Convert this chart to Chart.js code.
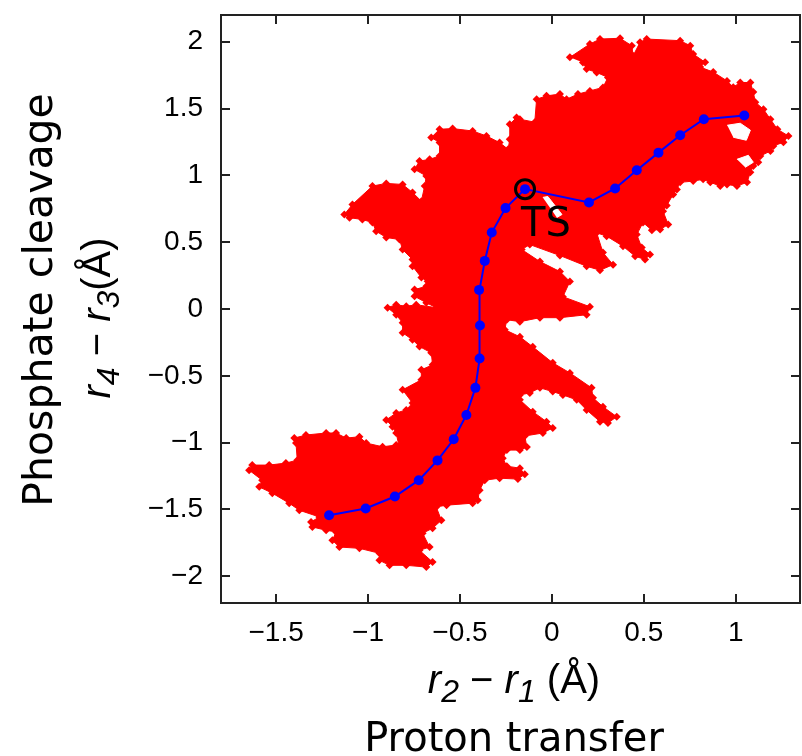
<!DOCTYPE html>
<html><head><meta charset="utf-8">
<script src="https://cdn.jsdelivr.net/npm/chart.js@4.4.1/dist/chart.umd.min.js"></script>
<style>html,body{margin:0;padding:0;background:#fff}canvas{display:block}</style>
</head><body>
<canvas id="c" width="802" height="756"></canvas>
<script>
const xTickValues = [-1.5, -1, -0.5, 0, 0.5, 1];
const xTickLabels = ['\u22121.5', '\u22121', '\u22120.5', '0', '0.5', '1'];
const yTickValues = [-2, -1.5, -1, -0.5, 0, 0.5, 1, 1.5, 2];
const yTickLabels = ['\u22122', '\u22121.5', '\u22121', '\u22120.5', '0', '0.5', '1', '1.5', '2'];

// minimum-energy path (blue)
const pathX = [-1.212, -1.013, -0.854, -0.724, -0.622, -0.534, -0.465, -0.416, -0.393, -0.391, -0.396, -0.365, -0.327, -0.252, -0.146, 0.202, 0.344, 0.462, 0.580, 0.698, 0.827, 1.047];
const pathY = [-1.543, -1.493, -1.403, -1.281, -1.133, -0.975, -0.793, -0.590, -0.371, -0.123, 0.143, 0.360, 0.572, 0.755, 0.897, 0.797, 0.902, 1.038, 1.170, 1.300, 1.420, 1.448];

// transition state
const tsPoint = [-0.146, 0.897];
const tsLabel = 'TS';

// outline of the sampled region (red)
const cloudOutline = [
[0.098,1.883],[0.207,1.983],[0.262,2.020],[0.371,2.026],[0.435,1.970],[0.442,1.895],[0.480,1.996],[0.516,2.020],
[0.698,2.008],[0.753,1.970],[0.769,1.908],[0.834,1.846],[0.807,1.810],[0.878,1.773],[0.953,1.707],[0.987,1.660],
[1.025,1.695],[1.080,1.695],[1.096,1.623],[1.107,1.548],[1.151,1.495],[1.189,1.420],[1.227,1.345],[1.287,1.295],
[1.260,1.248],[1.205,1.220],[1.189,1.182],[1.134,1.145],[1.123,1.098],[1.096,1.070],[1.080,1.023],[1.062,0.948],
[1.007,0.920],[0.953,0.932],[0.916,0.920],[0.862,0.948],[0.823,0.970],[0.769,0.957],[0.698,0.948],[0.680,0.895],
[0.660,0.857],[0.625,0.775],[0.605,0.732],[0.633,0.632],[0.589,0.595],[0.544,0.590],[0.496,0.647],[0.462,0.557],
[0.489,0.460],[0.534,0.407],[0.507,0.370],[0.453,0.395],[0.387,0.470],[0.298,0.545],[0.244,0.570],[0.278,0.422],
[0.333,0.332],[0.262,0.290],[0.189,0.320],[0.044,0.400],[-0.120,0.482],[-0.164,0.445],[-0.065,0.355],[0.044,0.280],
[0.098,0.205],[0.060,0.092],[0.207,0.017],[0.189,-0.043],[0.044,-0.065],[-0.065,-0.065],[-0.174,-0.095],[-0.245,-0.080],
[-0.256,-0.155],[-0.174,-0.208],[-0.104,-0.283],[0.005,-0.403],[0.098,-0.478],[0.216,-0.590],[0.224,-0.665],[0.278,-0.731],
[0.353,-0.806],[0.305,-0.853],[0.262,-0.843],[0.189,-0.755],[0.135,-0.680],[0.060,-0.643],[0.005,-0.618],[-0.065,-0.590],
[-0.120,-0.628],[-0.174,-0.643],[-0.174,-0.680],[-0.104,-0.768],[-0.029,-0.843],[0.005,-0.890],[-0.049,-0.928],[-0.147,-0.950],
[-0.136,-1.033],[-0.174,-1.056],[-0.245,-1.056],[-0.267,-1.116],[-0.245,-1.176],[-0.174,-1.191],[-0.147,-1.236],[-0.185,-1.273],
[-0.284,-1.266],[-0.365,-1.281],[-0.393,-1.356],[-0.403,-1.431],[-0.431,-1.453],[-0.573,-1.468],[-0.629,-1.481],[-0.601,-1.581],
[-0.649,-1.641],[-0.703,-1.678],[-0.665,-1.781],[-0.720,-1.806],[-0.649,-1.893],[-0.683,-1.931],[-0.792,-1.918],[-0.883,-1.918],
[-0.938,-1.881],[-0.938,-1.828],[-1.047,-1.791],[-1.156,-1.781],[-1.194,-1.731],[-1.174,-1.668],[-1.228,-1.656],[-1.303,-1.631],
[-1.310,-1.593],[-1.265,-1.556],[-1.374,-1.506],[-1.429,-1.453],[-1.521,-1.378],[-1.592,-1.331],[-1.576,-1.281],[-1.647,-1.206],
[-1.630,-1.168],[-1.538,-1.168],[-1.447,-1.153],[-1.385,-1.131],[-1.392,-1.003],[-1.401,-0.966],[-1.338,-0.943],[-1.228,-0.928],
[-1.174,-0.928],[-1.119,-0.966],[-1.047,-0.956],[-1.010,-1.003],[-0.921,-1.031],[-0.847,-1.018],[-0.829,-1.041],[-0.847,-0.928],
[-0.867,-0.881],[-0.901,-0.830],[-0.847,-0.778],[-0.792,-0.755],[-0.758,-0.703],[-0.812,-0.605],[-0.710,-0.530],[-0.710,-0.455],
[-0.649,-0.418],[-0.656,-0.328],[-0.720,-0.281],[-0.758,-0.230],[-0.812,-0.178],[-0.812,-0.103],[-0.847,-0.043],[-0.894,0.010],
[-0.847,0.032],[-0.792,0.020],[-0.738,0.032],[-0.629,0.010],[-0.683,0.047],[-0.747,0.095],[-0.747,0.145],[-0.683,0.170],
[-0.676,0.207],[-0.710,0.235],[-0.758,0.320],[-0.758,0.370],[-0.812,0.445],[-0.829,0.520],[-0.901,0.535],[-0.956,0.582],
[-0.976,0.647],[-1.031,0.670],[-1.101,0.683],[-1.129,0.707],[-1.085,0.782],[-0.976,0.920],[-0.901,0.940],[-0.812,0.932],
[-0.758,0.872],[-0.710,0.807],[-0.692,0.920],[-0.683,0.995],[-0.747,1.045],[-0.720,1.107],[-0.665,1.120],[-0.611,1.145],
[-0.611,1.245],[-0.656,1.283],[-0.611,1.345],[-0.540,1.350],[-0.431,1.332],[-0.356,1.295],[-0.284,1.245],[-0.238,1.195],
[-0.229,1.270],[-0.229,1.383],[-0.192,1.433],[-0.174,1.420],[-0.093,1.398],[-0.083,1.570],[-0.029,1.595],[0.044,1.608],
[0.080,1.570],[0.142,1.608],[0.207,1.632],[0.278,1.658],[0.305,1.733],[0.244,1.770],[0.189,1.795],[0.169,1.845]
];

// unsampled gaps inside the region
const holeA = [[0.954,1.375],[1.025,1.390],[1.080,1.338],[1.058,1.263],[0.987,1.285]];
const holeB = [[1.007,1.120],[1.069,1.150],[1.096,1.098],[1.052,1.060]];
const holeC = [[-0.049,0.835],[-0.022,0.842],[0.055,0.707],[0.027,0.685]];

const xTitle = [{t:'r', i:true}, {t:'2', i:true, s:true}, {t:' \u2212 '}, {t:'r', i:true}, {t:'1', i:true, s:true}, {t:' (\u00C5)'}];
const yTitle = [{t:'r', i:true}, {t:'4', i:true, s:true}, {t:' \u2212 '}, {t:'r', i:true}, {t:'3', i:true, s:true}, {t:'(\u00C5)'}];
const xTitle2 = 'Proton transfer';
const yTitle2 = 'Phosphate cleavage';

const toXY = arr => arr.map(p => ({x: p[0], y: p[1]}));
const SANS = '"Liberation Sans", Arial, sans-serif';
const DEJA = '"DejaVu Sans", sans-serif';

function richWidth(ctx, parts, size) {
  let w = 0;
  parts.forEach(p => { ctx.font = (p.i ? 'italic ' : '') + (p.s ? size * 0.8 : size) + 'px ' + SANS; w += ctx.measureText(p.t).width; });
  return w;
}
function drawRich(ctx, parts, cx, base, size) {
  let x = cx - richWidth(ctx, parts, size) / 2;
  ctx.textAlign = 'left'; ctx.textBaseline = 'alphabetic';
  parts.forEach(p => {
    ctx.font = (p.i ? 'italic ' : '') + (p.s ? size * 0.8 : size) + 'px ' + SANS;
    ctx.fillText(p.t, x, base + (p.s ? size * 0.22 : 0));
    x += ctx.measureText(p.t).width;
  });
}

const decor = {
  id: 'decor',
  afterDraw(chart) {
    const {ctx, chartArea: a, scales: {x, y}} = chart;
    ctx.save();
    ctx.strokeStyle = '#222'; ctx.lineWidth = 2;
    ctx.strokeRect(a.left, a.top, a.right - a.left, a.bottom - a.top);
    ctx.beginPath();
    const L = 9;
    xTickValues.forEach(v => { const p = Math.round(x.getPixelForValue(v)); ctx.moveTo(p, a.bottom); ctx.lineTo(p, a.bottom - L); ctx.moveTo(p, a.top); ctx.lineTo(p, a.top + L); });
    yTickValues.forEach(v => { const p = Math.round(y.getPixelForValue(v)); ctx.moveTo(a.left, p); ctx.lineTo(a.left + L, p); ctx.moveTo(a.right, p); ctx.lineTo(a.right - L, p); });
    ctx.stroke();

    ctx.fillStyle = '#000';
    // TS label
    ctx.font = '40px ' + DEJA; ctx.textAlign = 'left'; ctx.textBaseline = 'alphabetic';
    ctx.fillText(tsLabel, x.getPixelForValue(tsPoint[0]) - 4, y.getPixelForValue(tsPoint[1]) + 47);

    const cx = 514;
    drawRich(ctx, xTitle, cx, 693, 40);
    ctx.font = '40px ' + DEJA; ctx.textAlign = 'center';
    ctx.fillText(xTitle2, cx, 751);

    ctx.save(); ctx.translate(110, 318); ctx.rotate(-Math.PI / 2);
    drawRich(ctx, yTitle, 0, 0, 40);
    ctx.restore();
    ctx.save(); ctx.translate(52, 300); ctx.rotate(-Math.PI / 2);
    ctx.font = '41px ' + DEJA; ctx.textAlign = 'center'; ctx.textBaseline = 'alphabetic';
    ctx.fillText(yTitle2, 0, 0);
    ctx.restore();
    ctx.restore();
  }
};

function noPad(s) { s.paddingTop = 0; s.paddingBottom = 0; s.paddingLeft = 0; s.paddingRight = 0; }

new Chart(document.getElementById('c'), {
  type: 'scatter',
  data: {datasets: [
    {data: [{x: tsPoint[0], y: tsPoint[1]}], pointStyle: 'circle', pointRadius: 9.5, pointBorderWidth: 3,
     pointBorderColor: '#000', pointBackgroundColor: 'rgba(0,0,0,0)', order: 0},
    {data: pathX.map((v, i) => ({x: v, y: pathY[i]})), showLine: true, borderColor: '#0000ff', borderWidth: 2,
     pointRadius: 5, pointBackgroundColor: '#0000ff', pointBorderWidth: 0, order: 1},
    ...[holeA, holeB, holeC].map(h => ({data: toXY(h), showLine: true, fill: 'shape', backgroundColor: '#ffffff',
     borderColor: '#ffffff', borderWidth: 1, pointRadius: 0, order: 2})),
    {data: toXY(cloudOutline), showLine: true, fill: 'shape', backgroundColor: '#ff0000', borderColor: '#ff0000',
     borderWidth: 1, pointStyle: 'rectRot', pointRadius: 4, pointBackgroundColor: '#ff0000', pointBorderWidth: 0, order: 3}
  ]},
  options: {
    responsive: false, animation: false, devicePixelRatio: 1, events: [],
    layout: {autoPadding: false, padding: {left: 0, right: 2, top: 15, bottom: 0}},
    plugins: {legend: {display: false}, tooltip: {enabled: false}},
    scales: {
      x: {type: 'linear', min: -1.8, max: 1.35,
        afterFit(s) { s.height = 153; noPad(s); },
        afterBuildTicks(s) { s.ticks = xTickValues.map(v => ({value: v})); },
        grid: {display: false, drawTicks: false}, border: {display: false},
        ticks: {padding: 13, color: '#000', font: {family: SANS, size: 28}, maxRotation: 0, minRotation: 0,
          callback: (v, i) => xTickLabels[i]}},
      y: {type: 'linear', min: -2.2, max: 2.2,
        afterFit(s) { s.width = 221; noPad(s); },
        afterBuildTicks(s) { s.ticks = yTickValues.map(v => ({value: v})); },
        grid: {display: false, drawTicks: false}, border: {display: false},
        ticks: {padding: 18, color: '#000', font: {family: SANS, size: 28},
          callback: (v, i) => yTickLabels[i]}}
    }
  },
  plugins: [decor]
});
</script>
</body></html>
